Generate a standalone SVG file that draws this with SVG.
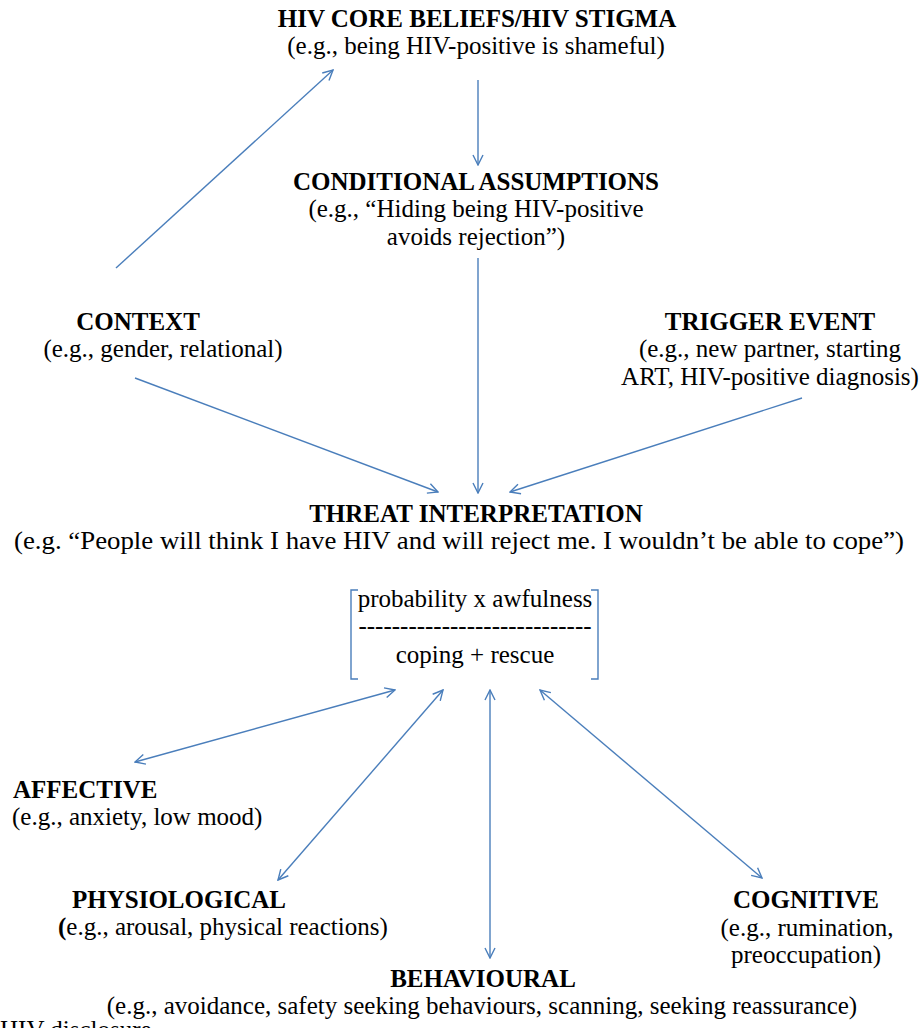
<svg xmlns="http://www.w3.org/2000/svg" width="922" height="1028" viewBox="0 0 922 1028">
<defs>
<style>
text{font-family:"Liberation Serif","Times New Roman",serif;font-size:25px;fill:#000;text-anchor:middle}
.b{font-weight:bold}
.l{text-anchor:start}
.c{stroke:#4A7EBB;stroke-width:1.4;fill:none}
</style>
<marker id="ah" viewBox="0 0 12 12" refX="11" refY="6" markerWidth="12" markerHeight="12" markerUnits="userSpaceOnUse" orient="auto-start-reverse">
<path d="M1,1 L11,6 L1,11" fill="none" stroke="#4A7EBB" stroke-width="1.4"/>
</marker>
</defs>
<rect width="922" height="1028" fill="#fff"/>
<g id="connectors">
<line class="c" x1="478" y1="80" x2="478" y2="165" marker-end="url(#ah)"/>
<line class="c" x1="478" y1="258" x2="478" y2="493" marker-end="url(#ah)"/>
<line class="c" x1="116" y1="268" x2="333" y2="70" marker-end="url(#ah)"/>
<line class="c" x1="135" y1="378" x2="438" y2="492" marker-end="url(#ah)"/>
<line class="c" x1="802" y1="398" x2="510" y2="492" marker-end="url(#ah)"/>
<line class="c" x1="395" y1="690" x2="135" y2="762" marker-start="url(#ah)" marker-end="url(#ah)"/>
<line class="c" x1="443" y1="690" x2="278" y2="880" marker-start="url(#ah)" marker-end="url(#ah)"/>
<line class="c" x1="490" y1="690" x2="490" y2="958" marker-start="url(#ah)" marker-end="url(#ah)"/>
<line class="c" x1="540" y1="690" x2="762" y2="878" marker-start="url(#ah)" marker-end="url(#ah)"/>
</g>
<g id="core">
<text class="b" x="477" y="27">HIV CORE BELIEFS/HIV STIGMA</text>
<text x="476" y="54">(e.g., being HIV-positive is shameful)</text>
</g>
<g id="conditional">
<text class="b" x="476" y="190">CONDITIONAL ASSUMPTIONS</text>
<text x="476" y="217">(e.g., “Hiding being HIV-positive</text>
<text x="476" y="245">avoids rejection”)</text>
</g>
<g id="context">
<text class="b" x="138" y="330">CONTEXT</text>
<text x="163" y="357">(e.g., gender, relational)</text>
</g>
<g id="trigger">
<text class="b" x="770" y="330">TRIGGER EVENT</text>
<text x="770" y="357">(e.g., new partner, starting</text>
<text x="770" y="385">ART, HIV-positive diagnosis)</text>
</g>
<g id="threat">
<text class="b" x="476" y="522">THREAT INTERPRETATION</text>
<text x="459" y="549" textLength="890" lengthAdjust="spacingAndGlyphs">(e.g. “People will think I have HIV and will reject me. I wouldn’t be able to cope”)</text>
</g>
<g id="formula">
<path class="c" d="M358,590 H351 V679 H358 M591,590 H598 V679 H591"/>
<text x="475" y="607">probability x awfulness</text>
<text x="475" y="634">----------------------------</text>
<text x="475" y="663">coping + rescue</text>
</g>
<g id="affective">
<text class="b l" x="13" y="798">AFFECTIVE</text>
<text class="l" x="12" y="825">(e.g., anxiety, low mood)</text>
</g>
<g id="physiological">
<text class="b l" x="72" y="908">PHYSIOLOGICAL</text>
<text class="l" x="58" y="935"><tspan class="b">(</tspan>e.g., arousal, physical reactions)</text>
</g>
<g id="cognitive">
<text class="b" x="806" y="908">COGNITIVE</text>
<text x="807" y="936">(e.g., rumination,</text>
<text x="806" y="963">preoccupation)</text>
</g>
<g id="behavioural">
<text class="b" x="483" y="987">BEHAVIOURAL</text>
<text x="482" y="1014">(e.g., avoidance, safety seeking behaviours, scanning, seeking reassurance)</text>
</g>
<g id="footer">
<text class="l" x="0" y="1038">HIV disclosure</text>
</g>
</svg>
